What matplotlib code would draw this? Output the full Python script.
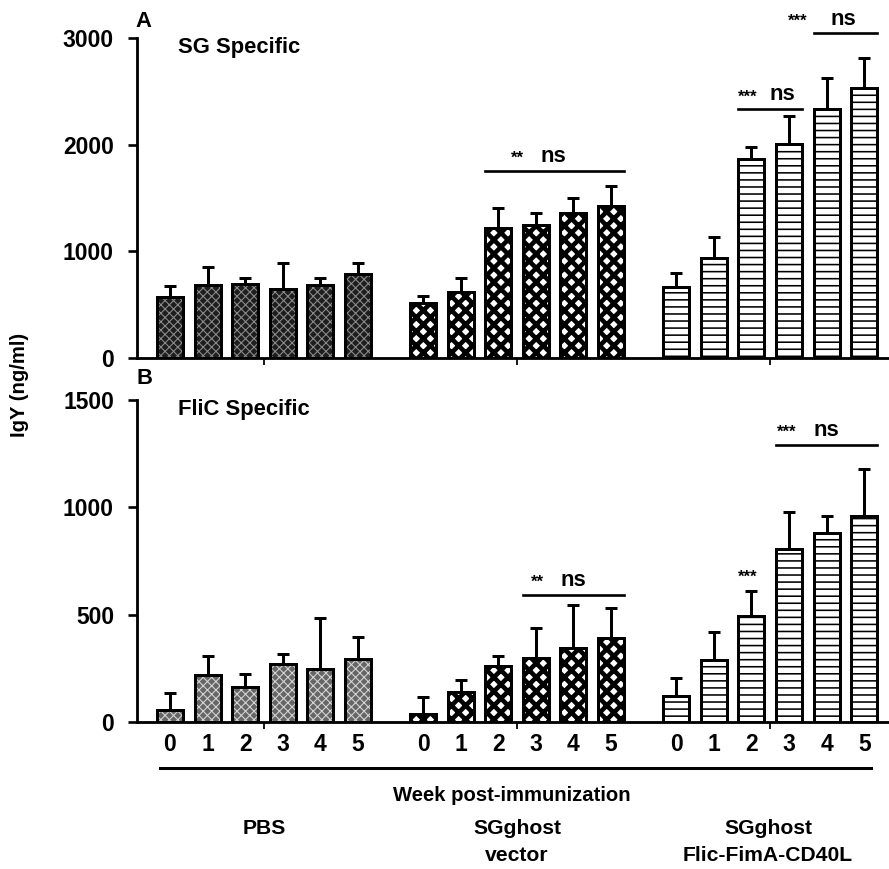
import numpy as np
import matplotlib
matplotlib.use("Agg")
import matplotlib.pyplot as plt
from matplotlib.transforms import blended_transform_factory

plt.rcParams["font.family"] = ["Liberation Sans", "DejaVu Sans"]
plt.rcParams["font.weight"] = "bold"

WEEKS = ["0", "1", "2", "3", "4", "5"]
GROUPS = ["PBS", "SGghost\nvector", "SGghost\nFlic-FimA-CD40L"]

# SG specific IgY (ng/ml): mean and SD
SG_PBS = [572, 684, 694, 647, 684, 788]
SG_PBS_SD = [103, 169, 56, 243, 66, 102]
SG_VEC = [515, 619, 1219, 1247, 1359, 1425]
SG_VEC_SD = [66, 131, 187, 112, 141, 188]
SG_FIM = [666, 938, 1866, 2006, 2334, 2531]
SG_FIM_SD = [131, 196, 112, 263, 291, 282]

# FliC specific IgY (ng/ml)
FL_PBS = [56, 219, 163, 270, 247, 293]
FL_PBS_SD = [79, 88, 61, 47, 237, 103]
FL_VEC = [37, 140, 261, 298, 345, 391]
FL_VEC_SD = [79, 56, 46, 140, 200, 140]
FL_FIM = [121, 289, 494, 806, 880, 960]
FL_FIM_SD = [84, 130, 116, 172, 80, 218]

# significance brackets: (group, first bar, last bar, y)
SG_SIG = [(1, 2, 5, 1753), (2, 2, 3, 2334), (2, 4, 5, 3047)]
FL_SIG = [(1, 3, 5, 592), (2, 3, 5, 1290)]

GAP = 6.73
W = 0.69

# bar styles: (facecolor, hatch, hatch colour, hatch lw)
STYLE_TOP = [("#1e1e1e", "xxxxx", "#8c8c8c", 0.6),
             ("white", "xxx", "black", 2.6),
             ("white", "---", "black", 0.9)]
STYLE_BOT = [("#666666", "xxxxx", "#d6d6d6", 0.6),
             ("white", "xxx", "black", 2.6),
             ("white", "---", "black", 0.9)]


def pos(g):
    return np.arange(6) + g * GAP


def draw_bars(ax, vals, sds, style):
    for g in range(3):
        x = pos(g)
        fc, h, hc, hlw = style[g]
        bars = ax.bar(x, vals[g], W, color=fc, edgecolor=hc, hatch=h, linewidth=0, zorder=2)
        for b in bars:
            if hasattr(b, "set_hatch_linewidth"):
                b.set_hatch_linewidth(hlw)
        ax.bar(x, vals[g], W, facecolor="none", edgecolor="black", linewidth=1.7, zorder=3)
        ax.errorbar(x, vals[g], yerr=[np.zeros(6), sds[g]], fmt="none", ecolor="black",
                    elinewidth=1.7, capsize=3.6, capthick=1.7, zorder=1)


def draw_lines(ax, sigs):
    for g, a, b, y in sigs:
        x0 = pos(g)[a] - W / 2
        x1 = pos(g)[b] + W / 2
        ax.plot([x0, x1], [y, y], color="black", lw=1.5, clip_on=False)


def style_axes(ax):
    ax.spines["top"].set_visible(False)
    ax.spines["right"].set_visible(False)
    ax.spines["left"].set_linewidth(1.6)
    ax.spines["bottom"].set_linewidth(1.6)
    ax.set_xlim(-0.878, 19.12)
    ax.tick_params(axis="y", length=5, width=1.5, labelsize=13, pad=8)
    ax.set_xticks([2.5 + g * GAP for g in range(3)], minor=True)
    ax.tick_params(axis="x", which="minor", length=4, width=1.0)
    for t in ax.get_yticklabels():
        t.set_fontweight("bold")


fig = plt.figure(figsize=(7, 6.843), dpi=127)
ax1 = fig.add_axes([0.154, 0.588, 0.846, 0.368])
ax2 = fig.add_axes([0.154, 0.169, 0.846, 0.371])

draw_bars(ax1, [SG_PBS, SG_VEC, SG_FIM], [SG_PBS_SD, SG_VEC_SD, SG_FIM_SD], STYLE_TOP)
ax1.set_ylim(0, 3000)
ax1.set_yticks([0, 1000, 2000, 3000])
ax1.set_xticks([])
style_axes(ax1)

draw_bars(ax2, [FL_PBS, FL_VEC, FL_FIM], [FL_PBS_SD, FL_VEC_SD, FL_FIM_SD], STYLE_BOT)
ax2.set_ylim(0, 1500)
ax2.set_yticks([0, 500, 1000, 1500])
ax2.set_xticks(np.concatenate([pos(g) for g in range(3)]))
ax2.set_xticklabels(WEEKS * 3, fontsize=13, fontweight="bold")
ax2.tick_params(axis="x", which="major", length=0, pad=6)
style_axes(ax2)

# significance marks
draw_lines(ax1, SG_SIG)
ax1.text(9.23, 1800, "**", ha="center", va="bottom", fontsize=9.5)
ax1.text(10.19, 1790, "ns", ha="center", va="bottom", fontsize=12.5)
ax1.text(15.37, 2380, "***", ha="center", va="bottom", fontsize=9.5)
ax1.text(16.28, 2370, "ns", ha="center", va="bottom", fontsize=12.5)
ax1.text(16.70, 3090, "***", ha="center", va="bottom", fontsize=9.5, clip_on=False)
ax1.text(17.90, 3080, "ns", ha="center", va="bottom", fontsize=12.5, clip_on=False)

draw_lines(ax2, FL_SIG)
ax2.text(9.76, 615, "**", ha="center", va="bottom", fontsize=9.5)
ax2.text(10.72, 610, "ns", ha="center", va="bottom", fontsize=12.5)
ax2.text(16.41, 1315, "***", ha="center", va="bottom", fontsize=9.5)
ax2.text(17.45, 1310, "ns", ha="center", va="bottom", fontsize=12.5)
ax2.text(15.37, 640, "***", ha="center", va="bottom", fontsize=9.5)

# long line under weeks
tr = blended_transform_factory(ax2.transData, ax2.transAxes)
ax2.plot([-0.27, 18.64], [-0.143, -0.143], color="black", lw=1.7, transform=tr, clip_on=False)

fig.text(0.161, 0.975, "A", fontsize=12.5, ha="center", va="center")
fig.text(0.163, 0.565, "B", fontsize=12.5, ha="center", va="center")
fig.text(0.200, 0.945, "SG Specific", fontsize=12.5, ha="left", va="center")
fig.text(0.200, 0.529, "FliC Specific", fontsize=12.5, ha="left", va="center")
fig.text(0.022, 0.557, "IgY (ng/ml)", fontsize=11.5, rotation=90, ha="center", va="center")
fig.text(0.576, 0.085, "Week post-immunization", fontsize=11.5, ha="center", va="center")

gx = [264, 517, 768]
for g in range(3):
    for k, line in enumerate(GROUPS[g].split("\n")):
        fig.text(gx[g] / 889, 1 - (828 + 27 * k) / 869, line, fontsize=12, ha="center",
                 va="center")

fig.savefig("out.png", dpi=127)
